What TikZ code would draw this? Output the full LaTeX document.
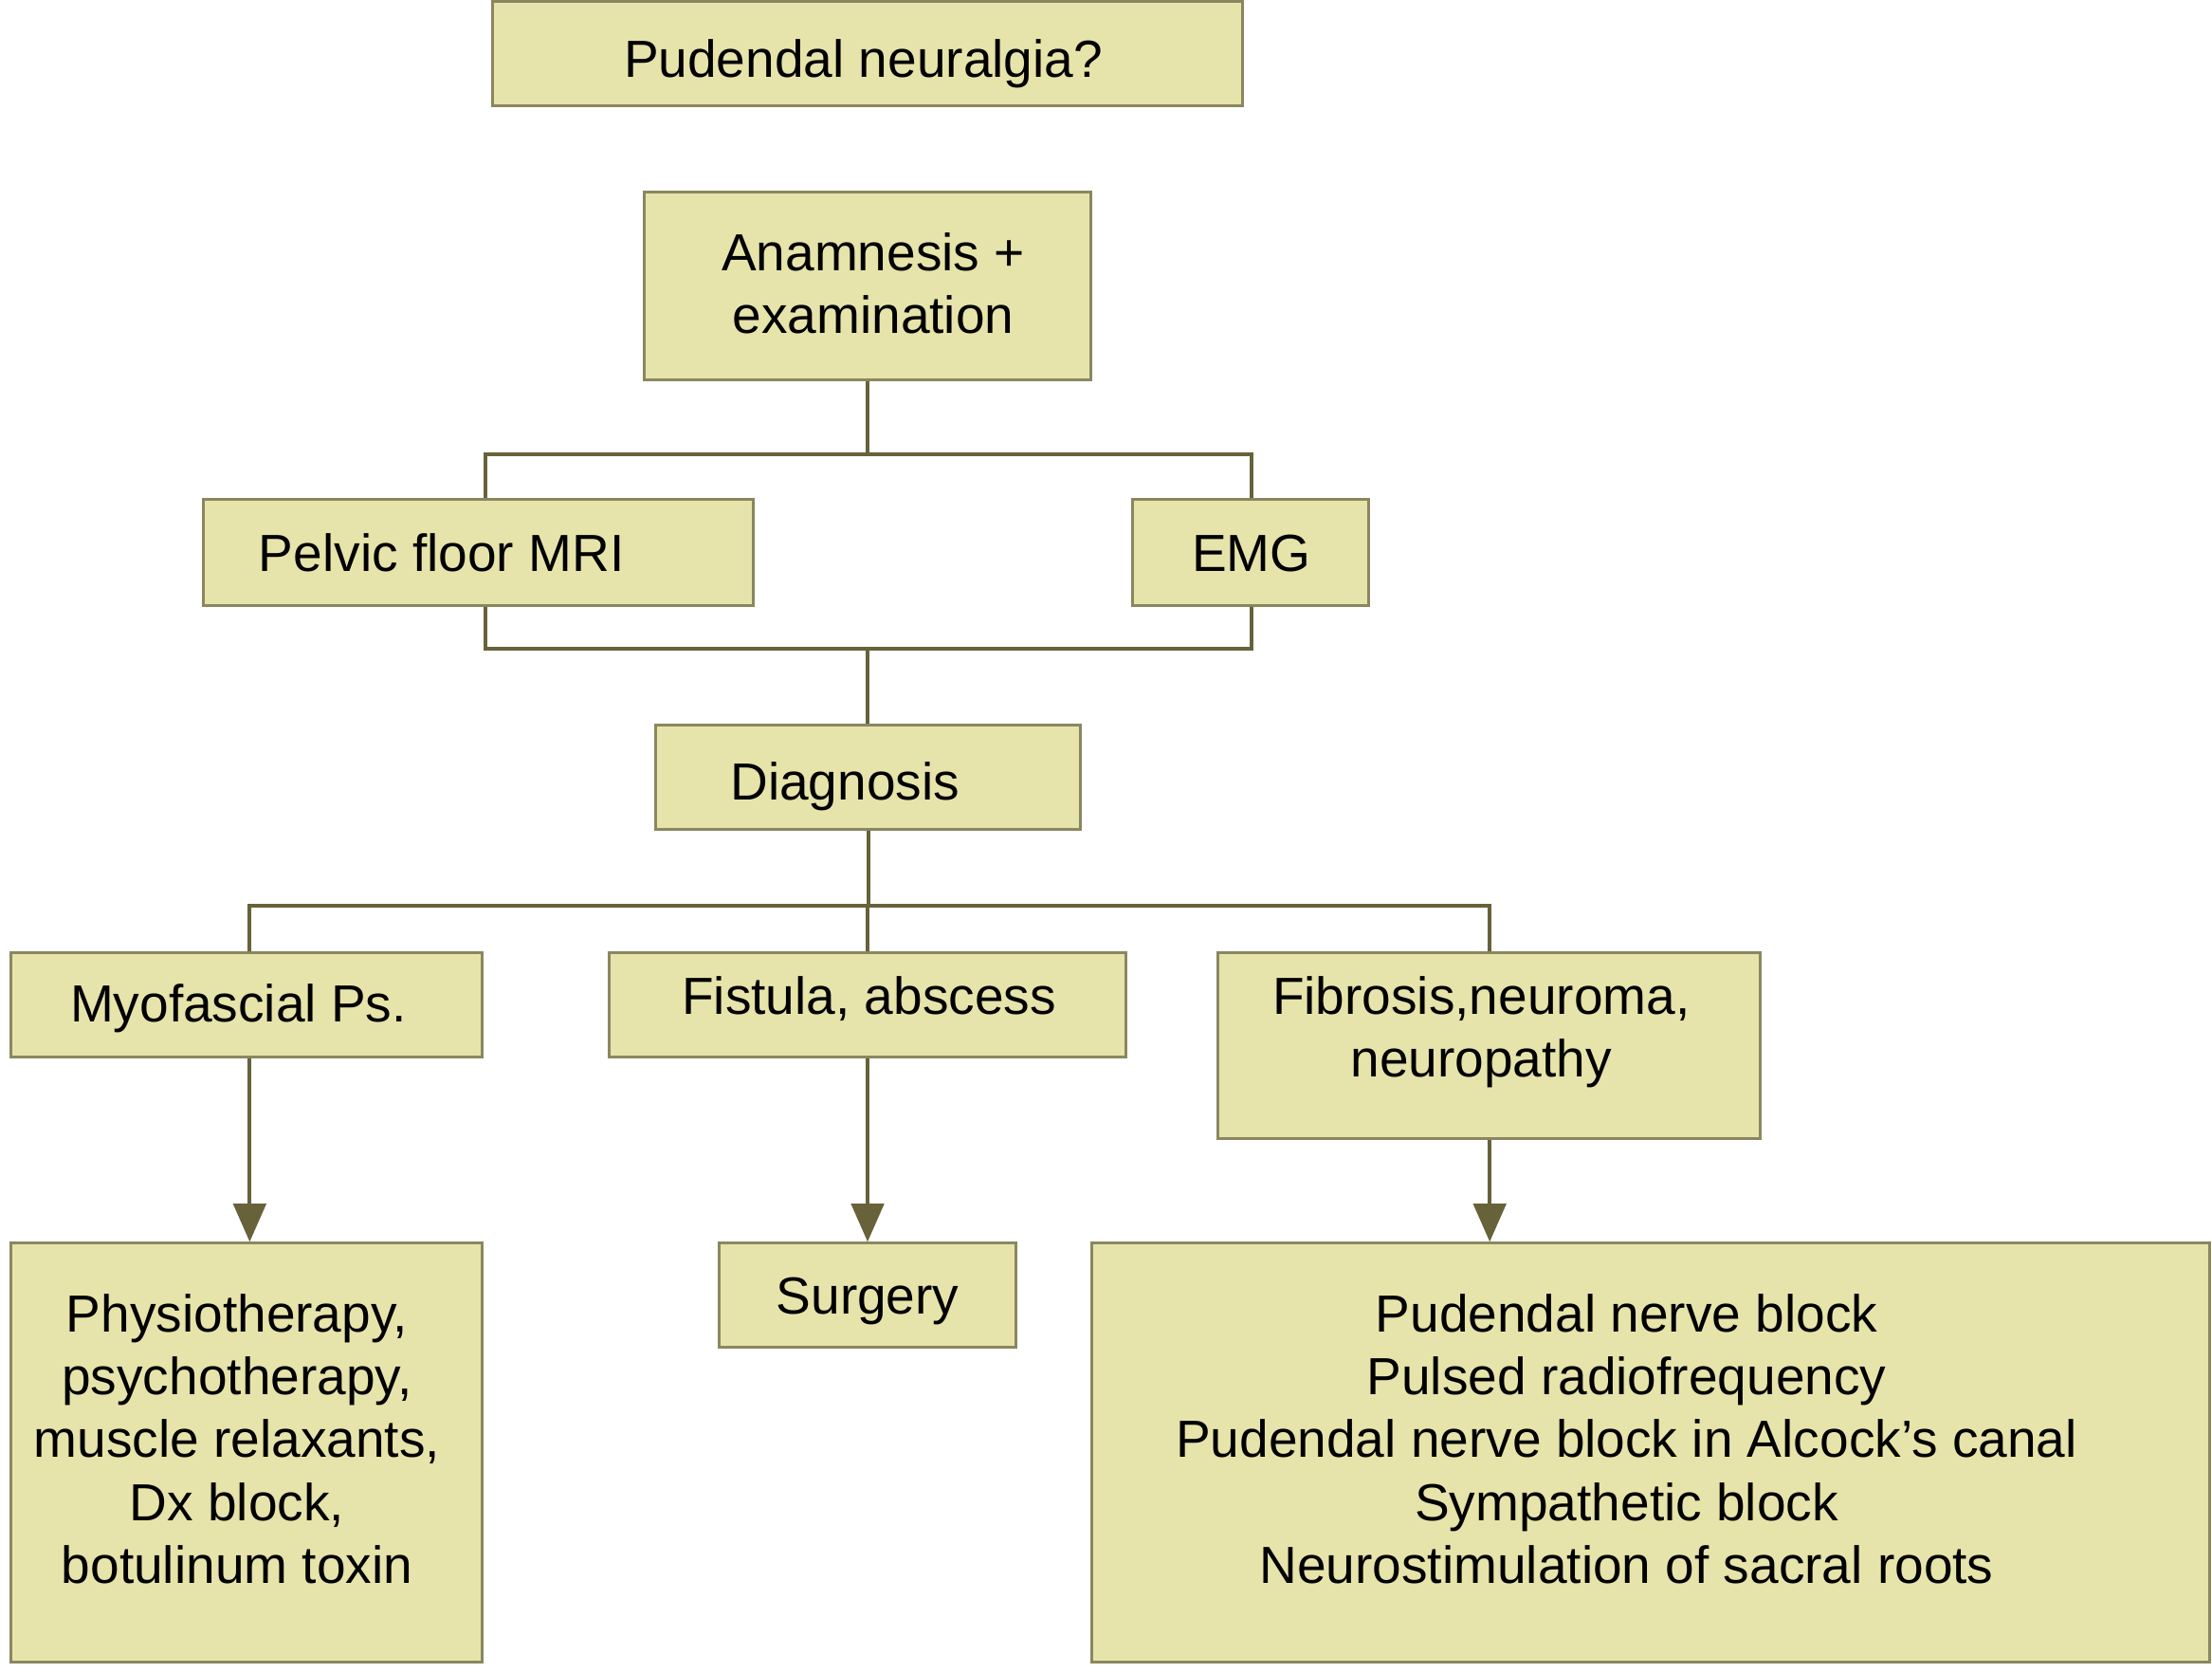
\documentclass[tikz,border=0pt]{standalone}
\usepackage{fontspec}
\setmainfont{Liberation Sans}
\usetikzlibrary{arrows.meta}
\definecolor{boxfill}{HTML}{E6E4AA}
\definecolor{boxdraw}{HTML}{8A8760}
\definecolor{conncol}{HTML}{67623A}
\begin{document}
\begin{tikzpicture}[x=0.5pt,y=-0.5pt,
  box/.style={draw=boxdraw,fill=boxfill,line width=1pt,inner sep=0pt,rectangle},
  txt/.style={font=\fontsize{18.5}{22.3}\selectfont,inner sep=0pt,align=center,text=black},
  conn/.style={draw=conncol,line width=1.35pt},
  arr/.style={conn,-{Triangle[width=11.5pt,length=13.5pt]}}]
\useasboundingbox[fill=white] (0,0) rectangle (1568,1185);
% boxes
\node[box,minimum width=266pt,minimum height=37pt] (pn) at (615,38) {};
\node[box,minimum width=158pt,minimum height=66.5pt] (an) at (615,202.5) {};
\node[box,minimum width=195pt,minimum height=37.5pt] (mri) at (339,391.5) {};
\node[box,minimum width=83.5pt,minimum height=37.5pt] (emg) at (886.5,391.5) {};
\node[box,minimum width=150.5pt,minimum height=37pt] (dx) at (615.5,551) {};
\node[box,minimum width=167pt,minimum height=37pt] (myo) at (175,712) {};
\node[box,minimum width=183pt,minimum height=37pt] (fis) at (615,712) {};
\node[box,minimum width=192.5pt,minimum height=66pt] (fib) at (1055.5,741) {};
\node[box,minimum width=167pt,minimum height=148.5pt] (phy) at (175,1029.5) {};
\node[box,minimum width=105pt,minimum height=37pt] (sur) at (615,918) {};
\node[box,minimum width=396pt,minimum height=148.5pt] (pud) at (1170,1029.5) {};
% texts
\node[txt,anchor=base] (pnt) at (612,55) {Pudendal neuralgia?};
\node[txt] (ant) at (619,201) {Anamnesis +\\examination};
\node[txt,anchor=base] (mrit) at (313,405) {Pelvic floor MRI};
\node[txt,anchor=base] (emgt) at (887,405) {EMG};
\node[txt,anchor=base] (dxt) at (599,567) {Diagnosis};
\node[txt,anchor=base] (myot) at (169,724) {Myofascial Ps.};
\node[txt,anchor=base] (fist) at (616,719) {Fistula, abscess};
\node[txt] (fibt) at (1050,731.5) {Fibrosis,neuroma,\\neuropathy};
\node[txt] (phyt) at (168,1019.7) {Physiotherapy,\\psychotherapy,\\muscle relaxants,\\Dx block,\\botulinum toxin};
\node[txt,anchor=base] (surt) at (615,931) {Surgery};
\node[txt] (pudt) at (1153,1019.7) {Pudendal nerve block\\Pulsed radiofrequency\\Pudendal nerve block in Alcock’s canal\\Sympathetic block\\Neurostimulation of sacral roots};
% junction coordinates
\coordinate (j1) at (615,322);
\coordinate (c1) at (344,322);
\coordinate (c2) at (887,322);
\coordinate (c3) at (344,460);
\coordinate (c4) at (887,460);
\coordinate (j2) at (615,460);
\coordinate (c5) at (177,642);
\coordinate (c6) at (1056,642);
% connectors
\draw[conn] (an.south) -- (j1);
\draw[conn] (mri.north -| c1) |- (c2) -- (emg.north -| c2);
\draw[conn] (mri.south -| c3) |- (c4) -- (emg.south -| c4);
\draw[conn] (j2) -- (j2 |- dx.north);
\draw[conn] (dx.south) -- (dx.south |- c5);
\draw[conn] (myo.north -| c5) |- (c6) -- (fib.north -| c6);
\draw[conn] (fis.north) -- (fis.north |- c5);
\draw[arr] (myo.south -| c5) -- (phy.north -| c5);
\draw[arr] (fis.south) -- (sur.north);
\draw[arr] (fib.south -| c6) -- (pud.north -| c6);
\end{tikzpicture}
\end{document}
